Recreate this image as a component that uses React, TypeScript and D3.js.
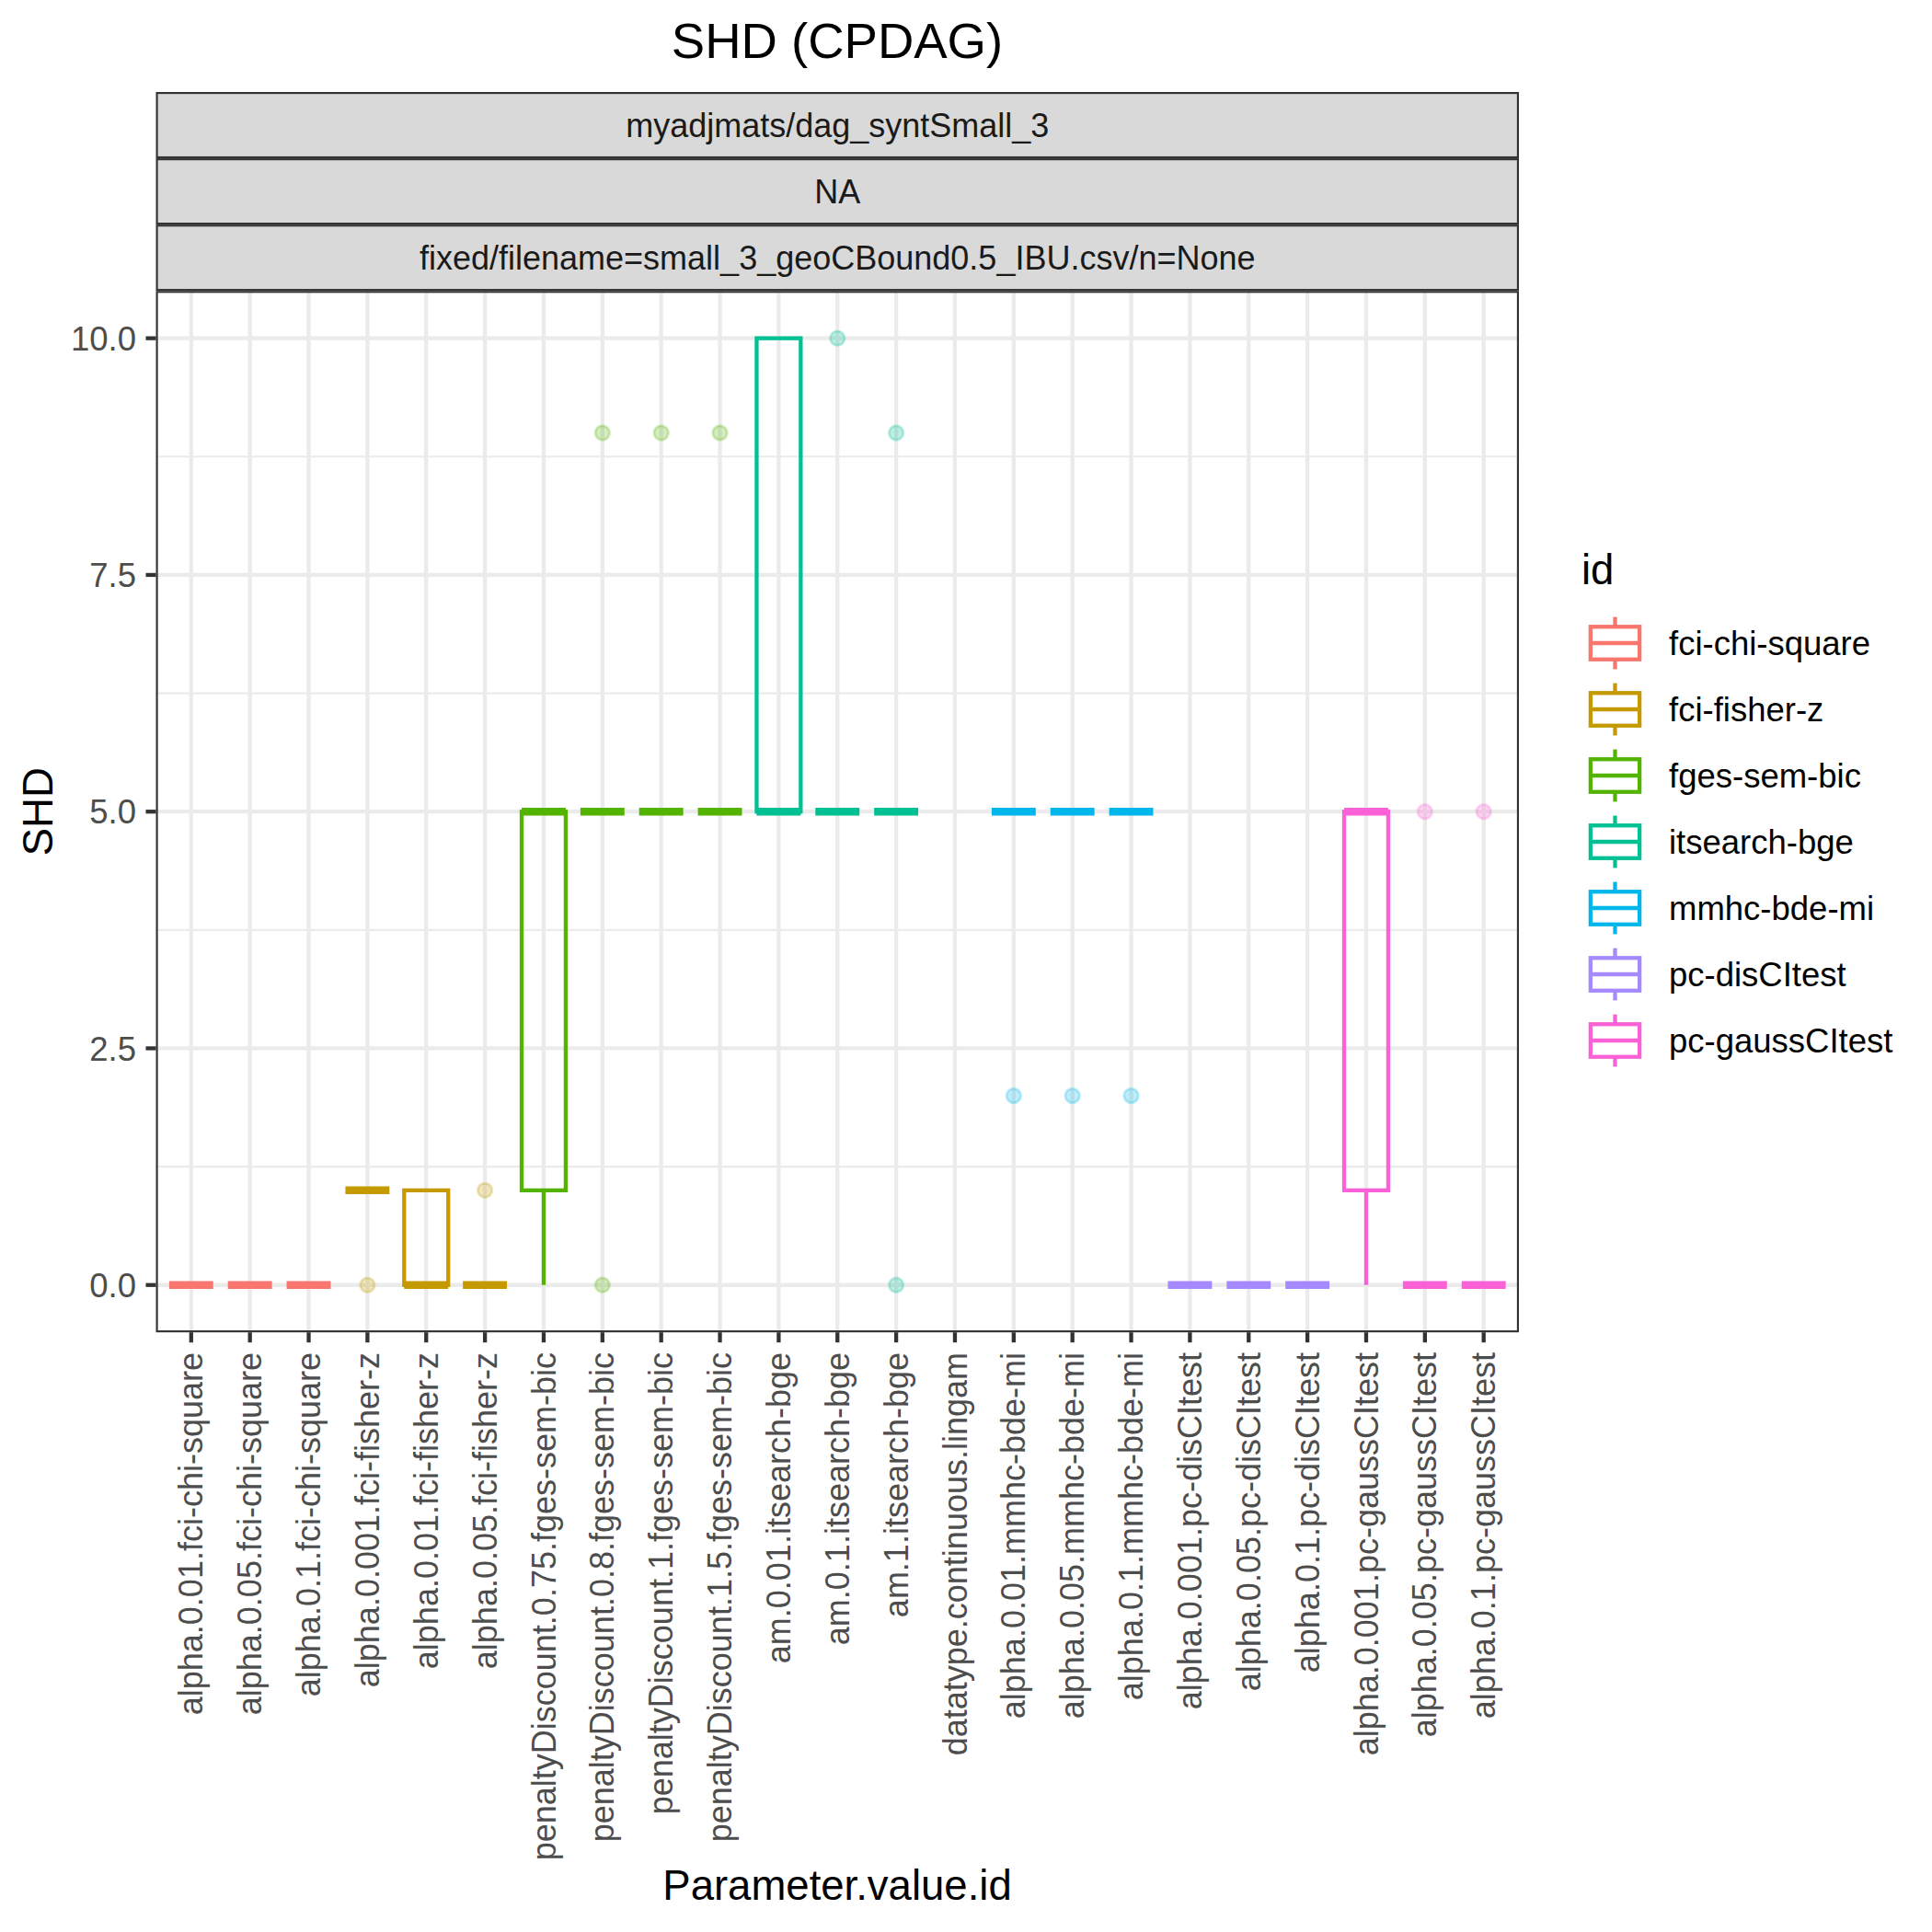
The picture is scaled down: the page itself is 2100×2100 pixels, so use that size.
import React from "react";
import * as d3 from "d3";

// ---------- data ----------
const categories: string[] = [
  "alpha.0.01.fci-chi-square",
  "alpha.0.05.fci-chi-square",
  "alpha.0.1.fci-chi-square",
  "alpha.0.001.fci-fisher-z",
  "alpha.0.01.fci-fisher-z",
  "alpha.0.05.fci-fisher-z",
  "penaltyDiscount.0.75.fges-sem-bic",
  "penaltyDiscount.0.8.fges-sem-bic",
  "penaltyDiscount.1.fges-sem-bic",
  "penaltyDiscount.1.5.fges-sem-bic",
  "am.0.01.itsearch-bge",
  "am.0.1.itsearch-bge",
  "am.1.itsearch-bge",
  "datatype.continuous.lingam",
  "alpha.0.01.mmhc-bde-mi",
  "alpha.0.05.mmhc-bde-mi",
  "alpha.0.1.mmhc-bde-mi",
  "alpha.0.001.pc-disCItest",
  "alpha.0.05.pc-disCItest",
  "alpha.0.1.pc-disCItest",
  "alpha.0.001.pc-gaussCItest",
  "alpha.0.05.pc-gaussCItest",
  "alpha.0.1.pc-gaussCItest",
];

const groupOf: string[] = [
  "fci-chi-square", "fci-chi-square", "fci-chi-square",
  "fci-fisher-z", "fci-fisher-z", "fci-fisher-z",
  "fges-sem-bic", "fges-sem-bic", "fges-sem-bic", "fges-sem-bic",
  "itsearch-bge", "itsearch-bge", "itsearch-bge",
  "lingam",
  "mmhc-bde-mi", "mmhc-bde-mi", "mmhc-bde-mi",
  "pc-disCItest", "pc-disCItest", "pc-disCItest",
  "pc-gaussCItest", "pc-gaussCItest", "pc-gaussCItest",
];

const lowerWhisker: (number | null)[] = [0, 0, 0, 1, 0, 0, 0, 5, 5, 5, 5, 5, 5, null, 5, 5, 5, 0, 0, 0, 0, 0, 0];
const q1: (number | null)[] = [0, 0, 0, 1, 0, 0, 1, 5, 5, 5, 5, 5, 5, null, 5, 5, 5, 0, 0, 0, 1, 0, 0];
const medians: (number | null)[] = [0, 0, 0, 1, 0, 0, 5, 5, 5, 5, 5, 5, 5, null, 5, 5, 5, 0, 0, 0, 5, 0, 0];
const q3: (number | null)[] = [0, 0, 0, 1, 1, 0, 5, 5, 5, 5, 10, 5, 5, null, 5, 5, 5, 0, 0, 0, 5, 0, 0];
const upperWhisker: (number | null)[] = [0, 0, 0, 1, 1, 0, 5, 5, 5, 5, 10, 5, 5, null, 5, 5, 5, 0, 0, 0, 5, 0, 0];
const outliers: number[][] = [
  [], [], [], [0], [], [1], [], [9, 0], [9], [9], [], [10], [9, 0], [], [2], [2], [2], [], [], [], [], [5], [5],
];

const legendIds: string[] = [
  "fci-chi-square", "fci-fisher-z", "fges-sem-bic", "itsearch-bge", "mmhc-bde-mi", "pc-disCItest", "pc-gaussCItest",
];
const legendColors: string[] = ["#F8766D", "#C49A00", "#53B400", "#00C094", "#00B6EB", "#A58AFF", "#FB61D7"];

const yTicks: number[] = [0, 2.5, 5, 7.5, 10];
const yMinor: number[] = [1.25, 3.75, 6.25, 8.75];
const stripLabels: string[] = [
  "myadjmats/dag_syntSmall_3",
  "NA",
  "fixed/filename=small_3_geoCBound0.5_IBU.csv/n=None",
];

const titleText = "SHD (CPDAG)";
const xTitle = "Parameter.value.id";
const yTitle = "SHD";
const legendTitle = "id";

// ---------- layout ----------
const FONT = "'Liberation Sans', Arial, Helvetica, sans-serif";
const W = 2100;
const H = 2100;
const panel = { left: 169.5, right: 1651, top: 316.2, bottom: 1448.2 };
const stripTop = 100;
const stripH = (panel.top - stripTop) / 3;
const LW = 4.3;
const MED_LW = 8.5;
const BORDER = "#333333";
const GRID = "#EBEBEB";

export default function App() {
  const x = d3.scalePoint<string>().domain(categories).range([panel.left, panel.right]).padding(0.6);
  const step = x.step();
  const boxW = step * 0.75;
  const y = d3.scaleLinear().domain([-0.5, 10.5]).range([panel.bottom, panel.top]);
  const color = d3.scaleOrdinal<string, string>().domain(legendIds).range(legendColors);
  const cx = (i: number) => x(categories[i]) as number;

  const keySize = 71;
  const keyLeft = 1720;
  const keyCenter0 = 699;
  const keyStep = 72;

  return (
    <svg
      width={W}
      height={H}
      viewBox={`0 0 ${W} ${H}`}
      style={{ position: "absolute", left: 0, top: 0, background: "#fff" }}
      fontFamily={FONT}
    >
      <rect x={0} y={0} width={W} height={H} fill="#fff" />

      {/* title */}
      <text x={910} y={63} textAnchor="middle" fontSize={54.5} fill="#000">
        {titleText}
      </text>

      {/* strips */}
      {stripLabels.map((s, i) => {
        const top = stripTop + i * stripH;
        return (
          <g key={s}>
            <rect
              x={panel.left + LW / 4}
              y={top + LW / 4}
              width={panel.right - panel.left - LW / 2}
              height={stripH - LW / 2}
              fill="#D9D9D9"
              stroke={BORDER}
              strokeWidth={LW / 2}
            />
            <text
              x={(panel.left + panel.right) / 2}
              y={top + stripH / 2}
              dy="0.36em"
              textAnchor="middle"
              fontSize={36}
              fill="#1A1A1A"
            >
              {s}
            </text>
          </g>
        );
      })}

      {/* panel background */}
      <rect x={panel.left} y={panel.top} width={panel.right - panel.left} height={panel.bottom - panel.top} fill="#fff" />

      {/* minor grid */}
      {yMinor.map((v) => (
        <line key={"mn" + v} x1={panel.left} x2={panel.right} y1={y(v)} y2={y(v)} stroke={GRID} strokeWidth={LW / 2} />
      ))}
      {/* major grid */}
      {yTicks.map((v) => (
        <line key={"mj" + v} x1={panel.left} x2={panel.right} y1={y(v)} y2={y(v)} stroke={GRID} strokeWidth={LW} />
      ))}
      {categories.map((c) => (
        <line key={"vg" + c} x1={x(c)} x2={x(c)} y1={panel.top} y2={panel.bottom} stroke={GRID} strokeWidth={LW} />
      ))}

      {/* boxes */}
      {categories.map((c, i) => {
        if (medians[i] === null) return null;
        const col = color(groupOf[i]);
        const xc = cx(i);
        const lo = lowerWhisker[i] as number;
        const a = q1[i] as number;
        const m = medians[i] as number;
        const b = q3[i] as number;
        const hi = upperWhisker[i] as number;
        return (
          <g key={"box" + c}>
            {hi > b && <line x1={xc} x2={xc} y1={y(b)} y2={y(hi)} stroke={col} strokeWidth={LW} />}
            {lo < a && <line x1={xc} x2={xc} y1={y(a)} y2={y(lo)} stroke={col} strokeWidth={LW} />}
            {b > a && (
              <rect
                x={xc - boxW / 2}
                y={y(b)}
                width={boxW}
                height={y(a) - y(b)}
                fill="none"
                stroke={col}
                strokeWidth={LW}
                strokeLinejoin="miter"
              />
            )}
            <line x1={xc - boxW / 2} x2={xc + boxW / 2} y1={y(m)} y2={y(m)} stroke={col} strokeWidth={MED_LW} />
          </g>
        );
      })}

      {/* outliers */}
      {categories.map((c, i) =>
        outliers[i].map((v, j) => (
          <circle
            key={"o" + c + j}
            cx={cx(i)}
            cy={y(v)}
            r={7.8}
            fill={color(groupOf[i])}
            fillOpacity={0.25}
            stroke={color(groupOf[i])}
            strokeOpacity={0.25}
            strokeWidth={2.8}
          />
        ))
      )}

      {/* panel border */}
      <rect
        x={panel.left + LW / 4}
        y={panel.top + LW / 4}
        width={panel.right - panel.left - LW / 2}
        height={panel.bottom - panel.top - LW / 2}
        fill="none"
        stroke={BORDER}
        strokeWidth={LW / 2}
      />

      {/* y axis */}
      {yTicks.map((v) => (
        <g key={"yt" + v}>
          <line x1={panel.left - 11} x2={panel.left} y1={y(v)} y2={y(v)} stroke={BORDER} strokeWidth={LW} />
          <text x={148} y={y(v)} dy="0.36em" textAnchor="end" fontSize={36.5} fill="#4D4D4D">
            {d3.format(".1f")(v)}
          </text>
        </g>
      ))}

      {/* x axis */}
      {categories.map((c) => (
        <g key={"xt" + c}>
          <line x1={x(c)} x2={x(c)} y1={panel.bottom} y2={panel.bottom + 11} stroke={BORDER} strokeWidth={LW} />
          <text
            transform={`translate(${x(c)},1470) rotate(-90)`}
            dy="0.35em"
            textAnchor="end"
            fontSize={36}
            fill="#4D4D4D"
          >
            {c}
          </text>
        </g>
      ))}

      {/* axis titles */}
      <text x={910} y={2065} textAnchor="middle" fontSize={45.5} fill="#000">
        {xTitle}
      </text>
      <text transform={`translate(57,${(panel.top + panel.bottom) / 2}) rotate(-90)`} textAnchor="middle" fontSize={45.5} fill="#000">
        {yTitle}
      </text>

      {/* legend */}
      <text x={1719} y={635} fontSize={45.5} fill="#000">
        {legendTitle}
      </text>
      {legendIds.map((id, i) => {
        const cy = keyCenter0 + i * keyStep;
        const top = cy - keySize / 2;
        const kx = (f: number) => keyLeft + f * keySize;
        const ky = (f: number) => top + (1 - f) * keySize;
        const col = color(id);
        return (
          <g key={"lg" + id}>
            <line x1={kx(0.5)} x2={kx(0.5)} y1={ky(0.1)} y2={ky(0.25)} stroke={col} strokeWidth={LW} />
            <line x1={kx(0.5)} x2={kx(0.5)} y1={ky(0.75)} y2={ky(0.9)} stroke={col} strokeWidth={LW} />
            <rect
              x={kx(0.125)}
              y={ky(0.75)}
              width={keySize * 0.75}
              height={keySize * 0.5}
              fill="none"
              stroke={col}
              strokeWidth={LW}
            />
            <line x1={kx(0.125)} x2={kx(0.875)} y1={ky(0.5)} y2={ky(0.5)} stroke={col} strokeWidth={LW} />
            <text x={1814} y={cy} dy="0.36em" fontSize={36.5} fill="#000">
              {id}
            </text>
          </g>
        );
      })}
    </svg>
  );
}
